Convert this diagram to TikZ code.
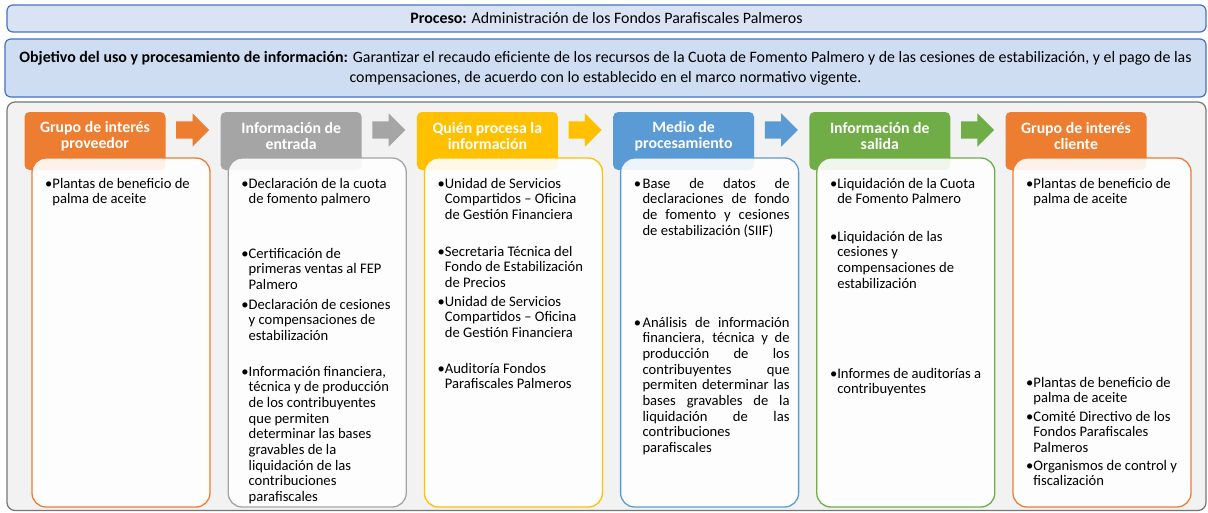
\documentclass[tikz,border=0pt]{standalone}
\usepackage{fontspec}
\setmainfont{Carlito}
\usepackage{tikz}
\usetikzlibrary{shapes.arrows,positioning}
\usepackage{xcolor}
\definecolor{pforange}{RGB}{237,125,49}
\definecolor{pfgray}{RGB}{165,165,165}
\definecolor{pfgold}{RGB}{255,192,0}
\definecolor{pfblue}{RGB}{91,155,213}
\definecolor{pfgreen}{RGB}{112,173,71}
\definecolor{pfnavy}{RGB}{68,114,196}
\definecolor{pflightblue}{RGB}{218,227,243}
\definecolor{pflightblue2}{RGB}{207,221,243}
\definecolor{pfpanel}{RGB}{242,242,242}
\definecolor{pfpanelline}{RGB}{118,118,118}
\hyphenpenalty=10000
\newcommand{\pitem}[1]{\textbullet\parbox[t]{150pt}{\raggedright #1}}
\newcommand{\pjust}[1]{\textbullet\hspace{1.5pt}\parbox[t]{147pt}{#1}}
\newcommand{\bodyfont}{\fontsize{14.6}{15.7}\selectfont}
\newcommand{\bannerfont}{\fontsize{15.9}{19.5}\selectfont}
\tikzstyle{header} = [rectangle, rounded corners=5pt, minimum width=141pt, minimum height=58pt, inner sep=0pt]
\tikzstyle{headtext} = [align=center, text=white, font=\fontsize{15.8}{16.5}\selectfont\bfseries]
\tikzstyle{card} = [rectangle, rounded corners=14pt, minimum width=178pt, minimum height=349pt, fill=white, fill opacity=0.9, line width=1.3pt]
\tikzstyle{blockarrow} = [single arrow, anchor=tail, minimum height=33pt, text height=17pt, text depth=0pt, single arrow head extend=8pt, single arrow tip angle=90, inner sep=0pt]
\tikzstyle{entry} = [anchor=base west, inner sep=0pt, font=\bodyfont]

\begin{document}
\begin{tikzpicture}[
    x=1pt, y=-1pt,
    banner/.style={rectangle, rounded corners=6pt, draw=pfnavy, line width=1.2pt, inner sep=0pt, font=\bannerfont}
]
\useasboundingbox (0,0) rectangle (1208,512);

% Banners
\node[banner, fill=pflightblue, minimum width=1199pt, minimum height=27pt] (proceso) at (606.5,18.5) {\textbf{Proceso:} Administración de los Fondos Parafiscales Palmeros};
\node[banner, fill=pflightblue2, minimum width=1201pt, minimum height=58pt] (objetivo) at (605.5,68) {};
\node[align=center, font=\bannerfont] (objtext) at (605.5,68.5) {\textbf{Objetivo del uso y procesamiento de información:} Garantizar el recaudo eficiente de los recursos de la Cuota de Fomento Palmero y de las cesiones de estabilización, y el pago de las\\compensaciones, de acuerdo con lo establecido en el marco normativo vigente.};

% Panel
\node[rectangle, rounded corners=8pt, draw=pfpanelline, fill=pfpanel, line width=1.2pt, minimum width=1199pt, minimum height=408.5pt] (panel) at (606.5,306.25) {};

% Headers
\node[header, fill=pforange] (grupo) at (95,141) {};
\node[header, fill=pfgray] (entrada) at (291.2,141) {};
\node[header, fill=pfgold] (quien) at (487.4,141) {};
\node[header, fill=pfblue] (medio) at (683.6,141) {};
\node[header, fill=pfgreen] (salida) at (879.8,141) {};
\node[header, fill=pforange] (cliente) at (1076,141) {};

% Block arrows
\node[blockarrow, fill=pforange] (arr1) at (176,130) {};
\node[blockarrow, fill=pfgray] (arr2) at (372.2,130) {};
\node[blockarrow, fill=pfgold] (arr3) at (568.4,130) {};
\node[blockarrow, fill=pfblue] (arr4) at (764.6,130) {};
\node[blockarrow, fill=pfgreen] (arr5) at (960.8,130) {};

% Cards
\node[card, draw=pforange] (grupocard) at (121,332.5) {};
\node[card, draw=pfgray] (entradacard) at (317.2,332.5) {};
\node[card, draw=pfgold] (quiencard) at (513.4,332.5) {};
\node[card, draw=pfblue] (mediocard) at (709.6,332.5) {};
\node[card, draw=pfgreen] (salidacard) at (905.8,332.5) {};
\node[card, draw=pforange] (clientecard) at (1102,332.5) {};

% Header labels
\node[headtext] (grupolbl) at (95,136) {Grupo de interés\\proveedor};
\node[headtext] (entradalbl) at (291.2,136) {Información de\\entrada};
\node[headtext] (quienlbl) at (487.4,136) {Quién procesa la\\información};
\node[headtext] (mediolbl) at (683.6,136) {Medio de\\procesamiento};
\node[headtext] (salidalbl) at (879.8,136) {Información de\\salida};
\node[headtext] (clientelbl) at (1076,136) {Grupo de interés\\cliente};

% Entries
\node[entry] (grupo1) at (45,188) {\pitem{Plantas de beneficio de\\palma de aceite}};

\node[entry] (entrada1) at (241.2,188) {\pitem{Declaración de la cuota\\de fomento palmero}};
\node[entry] (entrada2) at (241.2,258) {\pitem{Certificación de\\primeras ventas al FEP\\Palmero}};
\node[entry] (entrada3) at (241.2,309) {\pitem{Declaración de cesiones\\y compensaciones de\\estabilización}};
\node[entry] (entrada4) at (241.2,376) {\pitem{Información financiera,\\técnica y de producción\\de los contribuyentes\\que permiten\\determinar las bases\\gravables de la\\liquidación de las\\contribuciones\\parafiscales}};

\node[entry] (quien1) at (437.4,188) {\pitem{Unidad de Servicios\\Compartidos – Oficina\\de Gestión Financiera}};
\node[entry] (quien2) at (437.4,256) {\pitem{Secretaria Técnica del\\Fondo de Estabilización\\de Precios}};
\node[entry] (quien3) at (437.4,306) {\pitem{Unidad de Servicios\\Compartidos – Oficina\\de Gestión Financiera}};
\node[entry] (quien4) at (437.4,373) {\pitem{Auditoría Fondos\\Parafiscales Palmeros}};

\node[entry] (medio1) at (633.6,188) {\pjust{Base de datos de\linebreak declaraciones de fondo\linebreak de fomento y cesiones\linebreak de estabilización (SIIF)}};
\node[entry] (medio2) at (633.6,327) {\pjust{Análisis de información\linebreak financiera, técnica y de\linebreak producción de los\linebreak contribuyentes que\linebreak permiten determinar las\linebreak bases gravables de la\linebreak liquidación de las\linebreak contribuciones\newline parafiscales}};

\node[entry] (salida1) at (829.8,188) {\pitem{Liquidación de la Cuota\\de Fomento Palmero}};
\node[entry] (salida2) at (829.8,241) {\pitem{Liquidación de las\\cesiones y\\compensaciones de\\estabilización}};
\node[entry] (salida3) at (829.8,378) {\pitem{Informes de auditorías a\\contribuyentes}};

\node[entry] (cliente1) at (1026,188) {\pitem{Plantas de beneficio de\\palma de aceite}};
\node[entry] (cliente2) at (1026,387) {\pitem{Plantas de beneficio de\\palma de aceite}};
\node[entry] (cliente3) at (1026,421) {\pitem{Comité Directivo de los\\Fondos Parafiscales\\Palmeros}};
\node[entry] (cliente4) at (1026,470) {\pitem{Organismos de control y\\fiscalización}};

\end{tikzpicture}
\end{document}
